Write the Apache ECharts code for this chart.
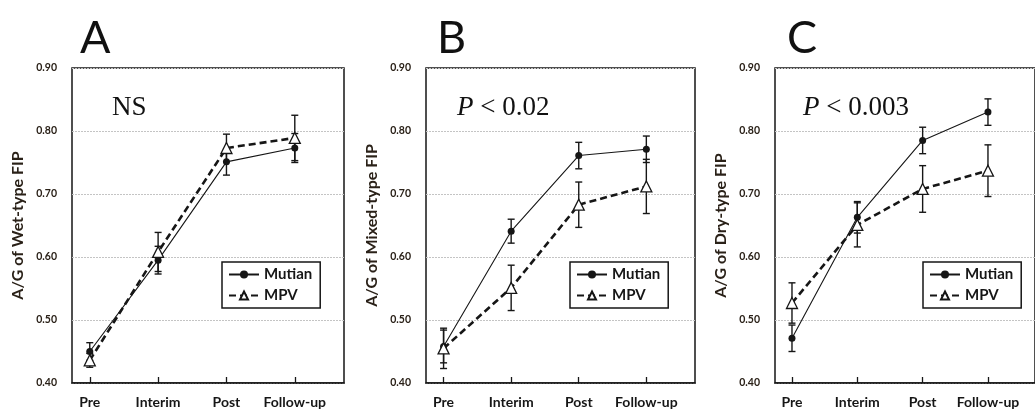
<!DOCTYPE html>
<html>
<head>
<meta charset="utf-8">
<script src="https://cdn.jsdelivr.net/npm/echarts@6/dist/echarts.min.js"></script>
<style>
  html, body { margin: 0; padding: 0; background: #fff; }
  #chart { width: 1035px; height: 410px; }
</style>
</head>
<body>
<div id="chart"></div>
<script>
const categories = ['Pre', 'Interim', 'Post', 'Follow-up']
const panelLetters = ['A', 'B', 'C']
const pLabels = ['NS', '{i|P} < 0.02', '{i|P} < 0.003']
const yTitles = ['A/G of Wet-type FIP', 'A/G of Mixed-type FIP', 'A/G of Dry-type FIP']
const legendNames = ['Mutian', 'MPV']

// means
const mutianWet = [0.450, 0.595, 0.751, 0.773]
const mpvWet = [0.436, 0.608, 0.773, 0.789]
const mutianMixed = [0.458, 0.641, 0.761, 0.771]
const mpvMixed = [0.455, 0.551, 0.683, 0.712]
const mutianDry = [0.471, 0.663, 0.785, 0.830]
const mpvDry = [0.527, 0.651, 0.708, 0.737]

// error bar half lengths
const mutianWetErr = [0.014, 0.022, 0.021, 0.023]
const mpvWetErr = [0.011, 0.031, 0.022, 0.036]
const mutianMixedErr = [0.026, 0.019, 0.021, 0.021]
const mpvMixedErr = [0.032, 0.036, 0.036, 0.043]
const mutianDryErr = [0.021, 0.025, 0.021, 0.021]
const mpvDryErr = [0.032, 0.035, 0.037, 0.041]

const mutianAll = [mutianWet, mutianMixed, mutianDry]
const mpvAll = [mpvWet, mpvMixed, mpvDry]
const mutianErrAll = [mutianWetErr, mutianMixedErr, mutianDryErr]
const mpvErrAll = [mpvWetErr, mpvMixedErr, mpvDryErr]

const gridLeft = [72, 426, 775]
const gridWidth = [272, 269, 272]
const legendLeft = [222, 570, 923]
const letterLeft = [80, 437, 787]
const pLeft = [112, 457, 803]

const ink = '#161616'
const font = 'Lato, "Open Sans", sans-serif'
const serif = '"Liberation Serif", "Times New Roman", serif'

function toPoints (vals) {
  return vals.map((v, i) => [i + 1, v])
}

// vertical error bar with caps
function errorSeries (means, errs, idx) {
  return {
    type: 'custom',
    xAxisIndex: idx,
    yAxisIndex: idx,
    silent: true,
    z: 3,
    encode: { x: 0, y: [1, 2] },
    data: means.map((m, i) => [i + 1, m - errs[i], m + errs[i]]),
    renderItem: (params, api) => {
      const x = api.value(0)
      const lo = api.coord([x, api.value(1)])
      const hi = api.coord([x, api.value(2)])
      const cap = 3.5
      const style = { stroke: ink, lineWidth: 1.4 }
      return {
        type: 'group',
        children: [
          { type: 'line', shape: { x1: lo[0], y1: lo[1], x2: hi[0], y2: hi[1] }, style },
          { type: 'line', shape: { x1: lo[0] - cap, y1: lo[1], x2: lo[0] + cap, y2: lo[1] }, style },
          { type: 'line', shape: { x1: hi[0] - cap, y1: hi[1], x2: hi[0] + cap, y2: hi[1] }, style }
        ]
      }
    }
  }
}

const grids = []
const xAxes = []
const yAxes = []
const legends = []
const series = []
const graphics = []

for (let i = 0; i < 3; i++) {
  grids.push({
    left: gridLeft[i],
    top: 68,
    width: gridWidth[i],
    height: 315,
    show: true,
    borderColor: ink,
    borderWidth: 1.5,
    backgroundColor: 'transparent'
  })
  xAxes.push({
    type: 'value',
    gridIndex: i,
    min: 0.74,
    max: 4.72,
    axisLine: { show: true, lineStyle: { color: ink, width: 1.5 } },
    axisTick: { show: true, inside: true, length: 6, customValues: [1, 2, 3, 4], lineStyle: { color: ink, width: 1.3 } },
    axisLabel: {
      customValues: [1, 2, 3, 4],
      formatter: v => categories[Math.round(v) - 1],
      margin: 12,
      fontFamily: font,
      fontWeight: 'bold',
      fontSize: 14,
      color: ink
    },
    splitLine: { show: false }
  })
  yAxes.push({
    type: 'value',
    gridIndex: i,
    min: 0.4,
    max: 0.9,
    interval: 0.1,
    name: yTitles[i],
    nameLocation: 'middle',
    nameGap: 46,
    nameTextStyle: { fontFamily: font, fontWeight: 'bold', fontSize: 16, color: '#2a2118' },
    axisLine: { show: false },
    axisTick: { show: false },
    axisLabel: {
      formatter: v => v.toFixed(2),
      margin: 15,
      fontFamily: font,
      fontWeight: 'bold',
      fontSize: 10.5,
      color: '#2a2118'
    },
    splitLine: { show: true, lineStyle: { color: '#c4c4c4', width: 1, type: [2, 1] } }
  })
  legends.push({
    data: legendNames,
    orient: 'vertical',
    left: legendLeft[i],
    top: 262,
    padding: [5, 8, 5, 6],
    itemGap: 6,
    itemWidth: 30,
    itemHeight: 10,
    borderColor: ink,
    borderWidth: 1.5,
    backgroundColor: '#fff',
    selectedMode: false,
    textStyle: { fontFamily: font, fontWeight: 'bold', fontSize: 15, color: ink }
  })
  series.push(errorSeries(mutianAll[i], mutianErrAll[i], i))
  series.push(errorSeries(mpvAll[i], mpvErrAll[i], i))
  series.push({
    name: 'Mutian',
    type: 'line',
    xAxisIndex: i,
    yAxisIndex: i,
    z: 4,
    data: toPoints(mutianAll[i]),
    symbol: 'circle',
    symbolSize: 7,
    itemStyle: { color: ink },
    lineStyle: { color: ink, width: 1.1 }
  })
  series.push({
    name: 'MPV',
    type: 'line',
    xAxisIndex: i,
    yAxisIndex: i,
    z: 5,
    data: toPoints(mpvAll[i]),
    symbol: 'triangle',
    symbolSize: 11,
    itemStyle: { color: '#fff', borderColor: ink, borderWidth: 1.3 },
    lineStyle: { color: ink, width: 2.6, type: [7, 4] }
  })
  graphics.push({
    type: 'text',
    left: letterLeft[i],
    top: 16,
    style: { text: panelLetters[i], font: '45px ' + font, fill: '#111' }
  })
  graphics.push({
    type: 'text',
    x: pLeft[i],
    y: 108,
    style: {
      text: pLabels[i],
      fontFamily: serif,
      fontSize: 27,
      fill: '#111',
      verticalAlign: 'middle',
      rich: {
        i: { fontFamily: serif, fontSize: 27, fontStyle: 'italic', fill: '#111' }
      }
    }
  })
}

const chart = echarts.init(document.getElementById('chart'))
chart.setOption({
  animation: false,
  backgroundColor: '#fff',
  grid: grids,
  xAxis: xAxes,
  yAxis: yAxes,
  legend: legends,
  series: series,
  graphic: graphics
})
</script>
</body>
</html>
